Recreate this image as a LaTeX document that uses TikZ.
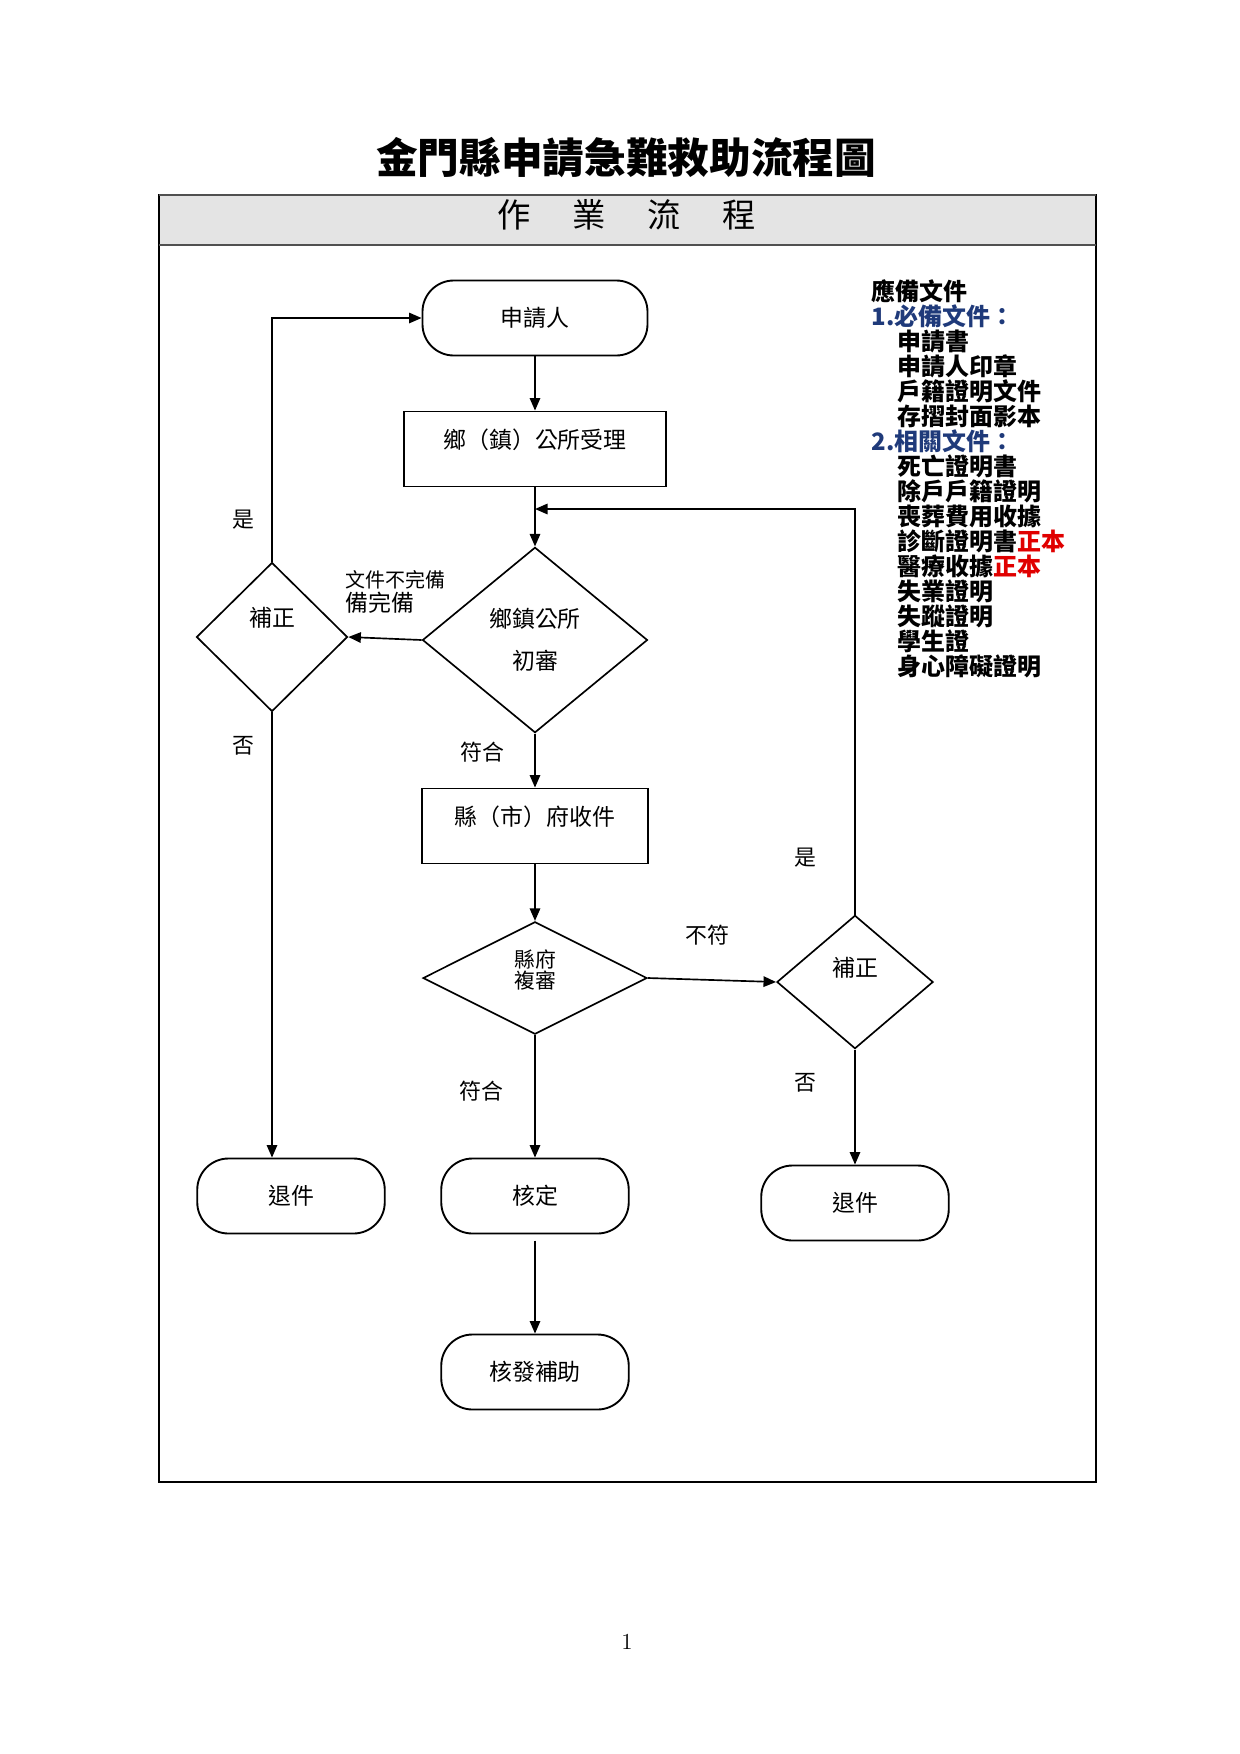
\documentclass[tikz,border=0pt]{standalone}
\usepackage{fontspec}
\newfontfamily\cjk{Noto Sans CJK TC}
\usetikzlibrary{shapes.geometric,arrows.meta}
\definecolor{headgray}{HTML}{E4E4E4}
\definecolor{headline}{HTML}{505050}
\definecolor{docblue}{HTML}{1F3A7A}
\definecolor{docred}{HTML}{E00000}
\tikzset{
    term/.style={draw, line width=0.9pt, rounded corners=15pt, minimum width=90pt, minimum height=36pt, inner sep=0pt, font=\cjk\fontsize{11pt}{13pt}\selectfont},
    proc/.style={draw, line width=0.9pt, minimum height=36pt, inner sep=0pt},
    decide/.style={draw, diamond, line width=0.8pt, inner sep=0pt, font=\cjk\fontsize{11pt}{13pt}\selectfont},
    flow/.style={-{Triangle[length=6pt,width=5pt]}, line width=0.8pt},
    lbl/.style={font=\cjk\fontsize{10.5pt}{12pt}\selectfont, inner sep=0pt},
    doc/.style={font=\cjk\bfseries\fontsize{11.5pt}{12pt}\selectfont, anchor=west, inner sep=0pt},
    every label/.style={font=\cjk\fontsize{11pt}{13pt}\selectfont, inner sep=0pt}
}
\begin{document}
\begin{tikzpicture}[x=0.48pt, y=-0.48pt]
                \useasboundingbox (0,0) rectangle (1240,1754);
                % page frame and header band
                \fill[headgray] (159,195) rectangle (1096,245);
                \draw[line width=1pt] (159,195) rectangle (1096,1482);
                \draw[headline, line width=1.2pt] (159,195) -- (1096,195);
                \draw[headline, line width=1.2pt] (159,245) -- (1096,245);
                \node at (626,158) [font=\cjk\bfseries\fontsize{20pt}{24pt}\selectfont] (title) {金門縣申請急難救助流程圖};
                \node at (627,215) [font=\cjk\fontsize{16pt}{18pt}\selectfont] (head) {作\hspace{20pt}業\hspace{20pt}流\hspace{20pt}程};
                % flow nodes
                \node at (535,318) [term, minimum width=108pt] (start) {申請人};
                \node at (535,449) [proc, minimum width=126pt, label={[yshift=4.5pt]center:鄉（鎮）公所受理}] (accept) {};
                \node at (535,640) [decide, minimum width=108pt, minimum height=89pt, align=center] (review1) {鄉鎮公所\\[7pt]初審};
                \node at (272,637) [decide, minimum width=72.5pt, minimum height=71.5pt, label={[yshift=9pt]center:補正}] (fix1) {};
                \node at (535,826) [proc, minimum width=108.5pt, label={[yshift=4.5pt]center:縣（市）府收件}] (county) {};
                \node at (535,978) [decide, minimum width=107.5pt, minimum height=54pt, label={[yshift=4pt, align=center, font=\cjk\fontsize{10pt}{10pt}\selectfont]center:縣府\\複審}] (review2) {};
                \node at (855,982) [decide, minimum width=75pt, minimum height=64pt, label={[yshift=7pt]center:補正}] (fix2) {};
                \node at (291,1196) [term] (ret1) {退件};
                \node at (535,1196) [term] (approve) {核定};
                \node at (855,1203) [term] (ret2) {退件};
                \node at (535,1372) [term] (grant) {核發補助};
                \coordinate (join) at (535,509);
                % connectors
                \draw[flow] (start) -- (accept);
                \draw[flow] (accept) -- (review1);
                \draw[flow] (fix2.north) |- (join);
                \draw[flow] (review1.west) -- (fix1.east);
                \draw[flow] (fix1.north) |- (start.west);
                \draw[flow] (fix1.south) -- (fix1.south |- ret1.north);
                \draw[flow] (review1) -- (county);
                \draw[flow] (county) -- (review2);
                \draw[flow] (review2.east) -- (fix2.west);
                \draw[flow] (review2) -- (approve);
                \draw[flow] (fix2) -- (ret2);
                \draw[flow, shorten <=3pt] (approve) -- (grant);
                % connector labels
                \node at (243,520) [lbl] (yes1) {是};
                \node at (243,746) [lbl] (no1) {否};
                \node at (345,580) [lbl, anchor=west, font=\cjk\fontsize{9.6pt}{11pt}\selectfont] (incomp) {文件不完備};
                \node at (345,603) [lbl, anchor=west, font=\cjk\fontsize{11pt}{12pt}\selectfont] (comp) {備完備};
                \node at (482,752) [lbl] (pass1) {符合};
                \node at (707,935) [lbl] (fail2) {不符};
                \node at (481,1091) [lbl] (pass2) {符合};
                \node at (805,858) [lbl] (yes2) {是};
                \node at (805,1083) [lbl] (no2) {否};
                % list of documents
                \node at (871,291) [doc] (docs) {應備文件};
                \node at (871,316) [doc, text=docblue] (must) {1.必備文件：};
                \node at (897,341) [doc] (m1) {申請書};
                \node at (897,366) [doc] (m2) {申請人印章};
                \node at (897,391) [doc] (m3) {戶籍證明文件};
                \node at (897,416) [doc] (m4) {存摺封面影本};
                \node at (871,441) [doc, text=docblue] (rel) {2.相關文件：};
                \node at (897,466) [doc] (r1) {死亡證明書};
                \node at (897,491) [doc] (r2) {除戶戶籍證明};
                \node at (897,516) [doc] (r3) {喪葬費用收據};
                \node at (897,541) [doc] (r4) {診斷證明書\textcolor{docred}{正本}};
                \node at (897,566) [doc] (r5) {醫療收據\textcolor{docred}{正本}};
                \node at (897,591) [doc] (r6) {失業證明};
                \node at (897,616) [doc] (r7) {失蹤證明};
                \node at (897,641) [doc] (r8) {學生證};
                \node at (897,666) [doc] (r9) {身心障礙證明};
                \node at (627,1642) [font=\fontsize{11pt}{13pt}\selectfont] (pagenum) {1};
\end{tikzpicture}
\end{document}
